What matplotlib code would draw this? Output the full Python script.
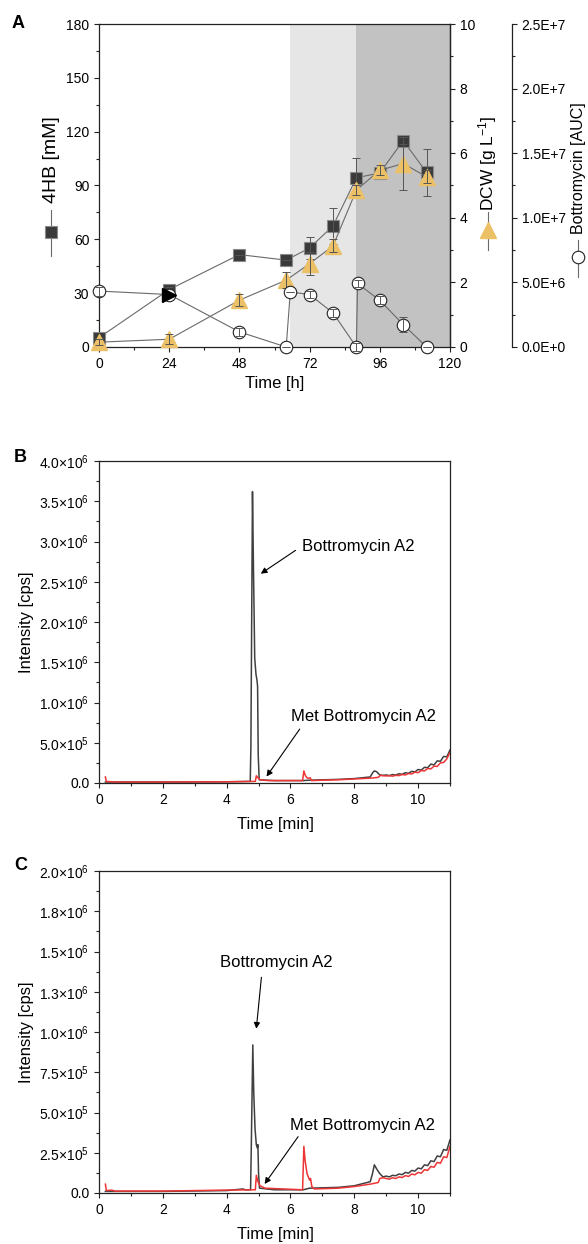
import numpy as np
import matplotlib
matplotlib.use('Agg')
import matplotlib.pyplot as plt
from matplotlib.lines import Line2D
from matplotlib.ticker import MultipleLocator, FixedLocator, FixedFormatter

plt.rcParams['font.family'] = ['Liberation Sans', 'DejaVu Sans']
plt.rcParams['mathtext.fontset'] = 'custom'
plt.rcParams['mathtext.rm'] = 'Liberation Sans'
plt.rcParams['mathtext.it'] = 'Liberation Sans:italic'
plt.rcParams['mathtext.bf'] = 'Liberation Sans:bold'

## 面板A 数据
t_4hb = [0, 24, 48, 64, 72, 80, 88, 96, 104, 112]
hb = [5.2, 32, 51.5, 48.4, 55.2, 67.5, 94.3, 97, 115, 97.3]
hb_err = [0, 1.5, 0, 0, 6, 10, 11, 2, 2, 13]

t_dcw = [0, 24, 48, 64, 72, 80, 88, 96, 104, 112]
dcw = [0.15, 0.24, 1.45, 2.07, 2.58, 3.13, 4.86, 5.47, 5.68, 5.27]
dcw_err = [0.1, 0.15, 0.18, 0.25, 0.36, 0.2, 0.15, 0.15, 0.83, 0.2]

t_bot = [0, 24, 48, 64, 65.4, 72, 80, 88, 88.4, 96, 104, 112]
bot = [4.33e6, 4.06e6, 1.17e6, 0, 4.26e6, 4.06e6, 2.64e6, 0, 4.92e6, 3.61e6, 1.74e6, 0]
bot_err = [0.35e6, 0, 0.3e6, 0, 0, 0.3e6, 0.3e6, 0.3e6, 0.3e6, 0.3e6, 0.55e6, 0]

phase1 = (65.4, 88)
phase2 = (88, 120)

auc_ticks = [0, 5e6, 1e7, 1.5e7, 2e7, 2.5e7]
auc_labels = ['0.0E+0', '5.0E+6', '1.0E+7', '1.5E+7', '2.0E+7', '2.5E+7']

## 面板B 色谱 (单位 1e6 cps)
tB_gray = [0.2, 2, 4, 4.74, 4.76, 4.81, 4.84, 4.88, 4.92, 4.95, 4.97, 4.99, 5.02, 5.5, 6.4, 6.6, 7.5, 8.0, 8.5,
           8.58, 8.63, 8.7, 8.8, 8.9, 9.0, 9.1, 9.2, 9.3, 9.4, 9.5, 9.6, 9.7, 9.8, 9.9, 10.0, 10.1, 10.2, 10.3,
           10.4, 10.5, 10.6, 10.7, 10.8, 10.9, 11.0]
iB_gray = [0.012, 0.012, 0.015, 0.02, 0.45, 3.62, 2.7, 1.55, 1.35, 1.28, 1.2, 0.35, 0.04, 0.03, 0.03, 0.035, 0.045,
           0.055, 0.075, 0.13, 0.15, 0.14, 0.10, 0.095, 0.10, 0.092, 0.105, 0.098, 0.115, 0.108, 0.128, 0.12, 0.145,
           0.138, 0.168, 0.16, 0.195, 0.19, 0.235, 0.225, 0.275, 0.27, 0.33, 0.325, 0.41]
tB_red = [0.2, 0.23, 0.5, 2, 4, 4.9, 4.93, 4.97, 5.05, 5.3, 6.0, 6.38, 6.42, 6.47, 6.53, 6.58, 6.62, 6.66, 7.0, 7.5,
          8.0, 8.5, 8.75, 8.82, 8.9, 9.0, 9.1, 9.2, 9.3, 9.4, 9.5, 9.6, 9.7, 9.8, 9.9, 10.0, 10.1, 10.2, 10.3, 10.4,
          10.5, 10.6, 10.7, 10.8, 10.9, 11.0]
iB_red = [0.075, 0.02, 0.012, 0.012, 0.015, 0.02, 0.09, 0.07, 0.04, 0.03, 0.03, 0.03, 0.15, 0.09, 0.06, 0.06, 0.065,
          0.03, 0.035, 0.04, 0.05, 0.06, 0.07, 0.095, 0.09, 0.088, 0.09, 0.085, 0.095, 0.092, 0.105, 0.1, 0.118,
          0.112, 0.135, 0.128, 0.155, 0.15, 0.18, 0.175, 0.21, 0.205, 0.25, 0.255, 0.3, 0.38]

## 面板C 色谱 (单位 1e6 cps)
tC_gray = [0.2, 2, 4, 4.5, 4.6, 4.75, 4.77, 4.82, 4.85, 4.89, 4.93, 4.96, 4.98, 5.0, 5.03, 5.5, 6.4, 6.6, 7.5, 8.0,
           8.5, 8.57, 8.63, 8.7, 8.8, 8.9, 9.0, 9.1, 9.2, 9.3, 9.4, 9.5, 9.6, 9.7, 9.8, 9.9, 10.0, 10.1, 10.2, 10.3,
           10.4, 10.5, 10.6, 10.7, 10.8, 10.9, 11.0]
iC_gray = [0.01, 0.01, 0.015, 0.025, 0.02, 0.02, 0.25, 0.92, 0.62, 0.4, 0.3, 0.28, 0.3, 0.12, 0.03, 0.02, 0.02, 0.03,
           0.035, 0.045, 0.07, 0.12, 0.175, 0.15, 0.12, 0.10, 0.105, 0.1, 0.11, 0.107, 0.118, 0.114, 0.128, 0.123,
           0.14, 0.136, 0.155, 0.15, 0.175, 0.17, 0.2, 0.195, 0.23, 0.225, 0.27, 0.265, 0.33]
tC_red = [0.2, 0.23, 0.4, 0.5, 2, 4, 4.9, 4.93, 4.98, 5.05, 5.2, 6.38, 6.42, 6.46, 6.52, 6.6, 6.63, 6.67, 6.75, 7.5,
          8.0, 8.5, 8.75, 8.8, 8.9, 9.0, 9.1, 9.2, 9.3, 9.4, 9.5, 9.6, 9.7, 9.8, 9.9, 10.0, 10.1, 10.2, 10.3, 10.4,
          10.5, 10.6, 10.7, 10.8, 10.9, 11.0]
iC_red = [0.055, 0.015, 0.018, 0.012, 0.012, 0.018, 0.02, 0.11, 0.07, 0.045, 0.03, 0.02, 0.29, 0.2, 0.12, 0.08, 0.09,
          0.04, 0.025, 0.03, 0.04, 0.055, 0.065, 0.09, 0.095, 0.09, 0.086, 0.095, 0.09, 0.1, 0.096, 0.108, 0.103,
          0.118, 0.113, 0.128, 0.123, 0.145, 0.14, 0.165, 0.16, 0.19, 0.185, 0.225, 0.22, 0.29]

B_ticks = [0, 0.5e6, 1e6, 1.5e6, 2e6, 2.5e6, 3e6, 3.5e6, 4e6]
B_labels = ['0.0', '5.0×10$^{5}$', '1.0×10$^{6}$', '1.5×10$^{6}$', '2.0×10$^{6}$', '2.5×10$^{6}$',
            '3.0×10$^{6}$', '3.5×10$^{6}$', '4.0×10$^{6}$']
C_ticks = [0, 0.25e6, 0.5e6, 0.75e6, 1e6, 1.25e6, 1.5e6, 1.75e6, 2e6]
C_labels = ['0.0', '2.5×10$^{5}$', '5.0×10$^{5}$', '7.5×10$^{5}$', '1.0×10$^{6}$', '1.3×10$^{6}$',
            '1.5×10$^{6}$', '1.8×10$^{6}$', '2.0×10$^{6}$']

W, H = 588, 1244
fig = plt.figure(figsize=(W / 100, H / 100), dpi=100)


def box(l, t, r, b):
    return [l / W, 1 - b / H, (r - l) / W, (b - t) / H]


def fx(x):
    return x / W


def fy(y):
    return 1 - y / H


spine_c = '#222222'
line_c = '#6a6a6a'
sq_c = '#3a3a3a'
tri_c = '#EBC066'

# ---------------- A ----------------
axA = fig.add_axes(box(99, 24, 450, 347))
axA.axvspan(*phase1, color='#e6e6e6', lw=0, zorder=0)
axA.axvspan(*phase2, color='#c2c2c2', lw=0, zorder=0)
axA.plot(t_4hb, hb, '-', color=line_c, lw=0.8, marker='s', ms=9, mfc=sq_c, mec='#8a8a8a', mew=0.8,
         clip_on=False, zorder=3)
axA.errorbar(t_4hb, hb, yerr=hb_err, fmt='none', ecolor='#555555', elinewidth=0.7, capsize=3, capthick=0.7,
             zorder=4, clip_on=False)
axA.set_xlim(0, 120)
axA.set_ylim(0, 180)
axA.xaxis.set_major_locator(MultipleLocator(24))
axA.xaxis.set_minor_locator(MultipleLocator(12))
axA.yaxis.set_major_locator(MultipleLocator(30))
axA.yaxis.set_minor_locator(MultipleLocator(15))
axA.tick_params(which='major', direction='out', length=3.5, width=0.8, labelsize=10, color=spine_c)
axA.tick_params(which='minor', direction='out', length=2, width=0.8, color=spine_c)
axA.tick_params(axis='both', which='both', top=False, right=False)
axA.set_xlabel('Time [h]', fontsize=12, labelpad=4)

ax2 = axA.twinx()
ax2.plot(t_dcw, dcw, '-', color=line_c, lw=0.8, marker='^', ms=11, mfc=tri_c, mec=tri_c, clip_on=False, zorder=3)
ax2.errorbar(t_dcw, dcw, yerr=dcw_err, fmt='none', ecolor='#555555', elinewidth=0.7, capsize=3, capthick=0.7,
             zorder=4, clip_on=False)
ax2.set_ylim(0, 10)
ax2.yaxis.set_major_locator(MultipleLocator(2))
ax2.yaxis.set_minor_locator(MultipleLocator(1))
ax2.tick_params(which='major', direction='out', length=3.5, width=0.8, labelsize=10, color=spine_c)
ax2.tick_params(which='minor', direction='out', length=2, width=0.8, color=spine_c)

ax3 = axA.twinx()
ax3.spines['right'].set_position(('outward', 44.6))
ax3.plot(t_bot, bot, '-', color=line_c, lw=0.8, marker='o', ms=9, mfc='white', mec='#222222', mew=0.8,
         clip_on=False, zorder=3)
ax3.errorbar(t_bot, bot, yerr=bot_err, fmt='none', ecolor='#555555', elinewidth=0.7, capsize=3, capthick=0.7,
             zorder=4, clip_on=False)
ax3.plot([t_bot[1]], [bot[1]], marker='>', ms=10, color='black', lw=0, zorder=5)
ax3.set_ylim(0, 2.5e7)
ax3.yaxis.set_major_locator(FixedLocator(auc_ticks))
ax3.yaxis.set_major_formatter(FixedFormatter(auc_labels))
ax3.yaxis.set_minor_locator(MultipleLocator(2.5e6))
ax3.tick_params(which='major', direction='out', length=3.5, width=0.8, labelsize=10, color=spine_c)
ax3.tick_params(which='minor', direction='out', length=2, width=0.8, color=spine_c)

for a in (ax2, ax3):
    for s in ('top', 'left', 'bottom'):
        a.spines[s].set_visible(False)
for a in (axA, ax2, ax3):
    for s in a.spines.values():
        s.set_linewidth(0.9)
        s.set_color(spine_c)

# 坐标轴标题 (带图例符号)
fig.text(fx(51), fy(160), '4HB [mM]', rotation=90, ha='center', va='center', fontsize=14)
fig.add_artist(Line2D([fx(51), fx(51)], [fy(210), fy(256)], color=line_c, lw=0.8))
fig.add_artist(Line2D([fx(51)], [fy(232)], marker='s', ms=9, mfc=sq_c, mec='#8a8a8a', mew=0.8, lw=0))

fig.text(fx(488), fy(163), 'DCW [g L$^{-1}$]', rotation=90, ha='center', va='center', fontsize=12.5)
fig.add_artist(Line2D([fx(488), fx(488)], [fy(212), fy(250)], color=line_c, lw=0.8))
fig.add_artist(Line2D([fx(488)], [fy(230)], marker='^', ms=11, mfc=tri_c, mec=tri_c, lw=0))

fig.text(fx(578), fy(168), 'Bottromycin [AUC]', rotation=90, ha='center', va='center', fontsize=11.5)
fig.add_artist(Line2D([fx(578), fx(578)], [fy(240), fy(277)], color=line_c, lw=0.8))
fig.add_artist(Line2D([fx(578)], [fy(257)], marker='o', ms=9, mfc='white', mec='#222222', mew=0.8, lw=0))

fig.text(fx(12), fy(23), 'A', fontsize=13, fontweight='bold', va='center')


# ---------------- B / C ----------------
def chrom(ax, tg, ig, tr, ir, ymax, ticks, labels, minor):
    ax.plot(tg, np.array(ig) * 1e6, color='#404040', lw=1.1)
    ax.plot(tr, np.array(ir) * 1e6, color='#EE3535', lw=1.1)
    ax.set_xlim(0, 11)
    ax.set_ylim(0, ymax)
    ax.xaxis.set_major_locator(MultipleLocator(2))
    ax.xaxis.set_minor_locator(MultipleLocator(1))
    ax.yaxis.set_major_locator(FixedLocator(ticks))
    ax.yaxis.set_major_formatter(FixedFormatter(labels))
    ax.yaxis.set_minor_locator(MultipleLocator(minor))
    ax.tick_params(which='major', direction='out', length=3.5, width=0.8, labelsize=10, color=spine_c)
    ax.tick_params(which='minor', direction='out', length=2, width=0.8, color=spine_c)
    ax.tick_params(axis='both', which='both', top=False, right=False)
    for s in ax.spines.values():
        s.set_linewidth(0.9)
        s.set_color(spine_c)


axB = fig.add_axes(box(99, 461, 450, 783))
chrom(axB, tB_gray, iB_gray, tB_red, iB_red, 4e6, B_ticks, B_labels, 0.25e6)
axB.text(6.35, 2.94e6, 'Bottromycin A2', fontsize=12, va='center', ha='left')
axB.annotate('', xy=(5.07, 2.6e6), xytext=(6.16, 2.89e6),
             arrowprops=dict(arrowstyle='-|>', color='black', lw=0.8, shrinkA=0, shrinkB=0, mutation_scale=9))
axB.text(6.03, 0.83e6, 'Met Bottromycin A2', fontsize=12, va='center', ha='left')
axB.annotate('', xy=(5.25, 0.08e6), xytext=(6.29, 0.67e6),
             arrowprops=dict(arrowstyle='-|>', color='black', lw=0.8, shrinkA=0, shrinkB=0, mutation_scale=9))
fig.text(fx(27), fy(622), 'Intensity [cps]', rotation=90, ha='center', va='center', fontsize=12)
fig.text(fx(275), fy(825), 'Time [min]', ha='center', va='center', fontsize=12)
fig.text(fx(14), fy(457), 'B', fontsize=13, fontweight='bold', va='center')

axC = fig.add_axes(box(99, 871, 450, 1193))
chrom(axC, tC_gray, iC_gray, tC_red, iC_red, 2e6, C_ticks, C_labels, 0.125e6)
axC.text(3.78, 1.43e6, 'Bottromycin A2', fontsize=12, va='center', ha='left')
axC.annotate('', xy=(4.93, 1.02e6), xytext=(5.09, 1.34e6),
             arrowprops=dict(arrowstyle='-|>', color='black', lw=0.8, shrinkA=0, shrinkB=0, mutation_scale=9))
axC.text(5.98, 0.42e6, 'Met Bottromycin A2', fontsize=12, va='center', ha='left')
axC.annotate('', xy=(5.19, 0.056e6), xytext=(6.24, 0.35e6),
             arrowprops=dict(arrowstyle='-|>', color='black', lw=0.8, shrinkA=0, shrinkB=0, mutation_scale=9))
fig.text(fx(27), fy(1032), 'Intensity [cps]', rotation=90, ha='center', va='center', fontsize=12)
fig.text(fx(275), fy(1235), 'Time [min]', ha='center', va='center', fontsize=12)
fig.text(fx(14), fy(866), 'C', fontsize=13, fontweight='bold', va='center')

fig.savefig('out.png', dpi=100)
